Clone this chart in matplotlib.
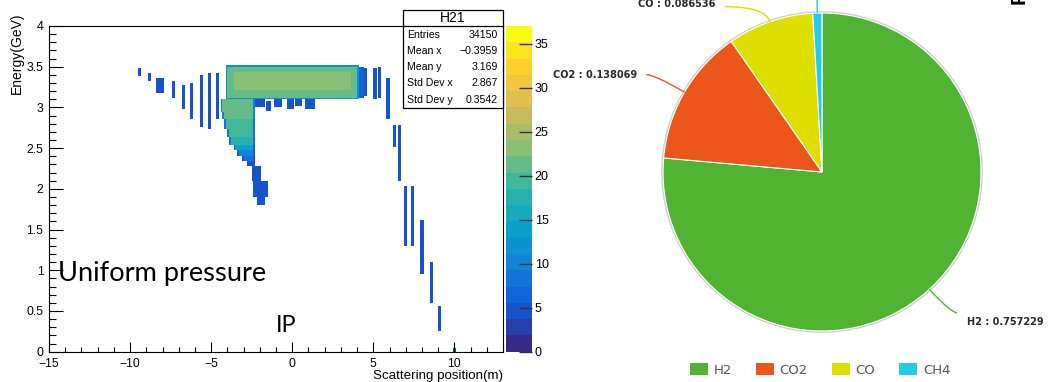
import numpy as np
import matplotlib
matplotlib.use("Agg")
import matplotlib.pyplot as plt
from matplotlib.colors import LinearSegmentedColormap, BoundaryNorm
from matplotlib.patches import Rectangle, Patch, Circle, PathPatch
from matplotlib.path import Path
from matplotlib.lines import Line2D
from matplotlib.ticker import MultipleLocator, FuncFormatter

plt.rcParams['font.family'] = ['Liberation Sans', 'DejaVu Sans']

# ---------------- data: 2D histogram H21 (regions of ~constant bin content) -------------
# main block (later entries override earlier ones)
main_x0 = [-4.05, -3.95, -3.6]
main_x1 = [4.10, 4.00, 3.6]
main_y0 = [3.10, 3.12, 3.22]
main_y1 = [3.52, 3.50, 3.44]
main_val = [12, 21, 23]

# vertical arm below the left end of the block: slabs in y (outer edge, then core)
arm_y0 = [2.95, 2.85, 2.75, 2.65, 2.55, 2.48, 2.40, 2.34]
arm_y1 = [3.10, 2.95, 2.85, 2.75, 2.65, 2.55, 2.48, 2.40]
arm_edge_xl = [-4.35, -4.25, -4.15, -4.00, -3.85, -3.60, -3.35, -3.05]
arm_edge_xr = [-2.25, -2.25, -2.25, -2.25, -2.25, -2.25, -2.25, -2.25]
arm_edge_val = [10, 10, 9, 9, 8, 7, 6, 5]
arm_core_xl = [-4.25, -4.15, -4.05, -3.90, -3.75, -3.50, -3.25, -2.95]
arm_core_xr = [-2.35, -2.35, -2.40, -2.40, -2.40, -2.40, -2.40, -2.40]
arm_core_val = [22, 21, 20, 19, 17, 14, 11, 8]

# sparse patches (tail of the arm, blobs, side columns)
sp_x0 = [-2.8, -2.45, -2.35, -2.15, -2.3, -1.6, -1.1, -0.3, 0.2, 0.8, 4.10, 4.45, 5.00, 5.35, -8.35]
sp_x1 = [-2.3, -1.85, -1.50, -1.70, -1.7, -1.3, -0.6, 0.1, 0.6, 1.4, 4.40, 4.65, 5.25, 5.55, -7.85]
sp_y0 = [2.28, 2.10, 1.90, 1.80, 3.00, 2.96, 3.00, 2.98, 3.02, 2.99, 3.12, 3.14, 3.10, 3.12, 3.19]
sp_y1 = [2.34, 2.28, 2.10, 1.90, 3.10, 3.08, 3.10, 3.10, 3.10, 3.10, 3.50, 3.48, 3.48, 3.50, 3.35]
sp_val = [5, 5, 5, 4, 5, 5, 5, 5, 4, 5, 6, 5, 5, 5, 5]

# thin vertical streaks (x centre, y start, y end, content)
streak_x = [-9.4, -8.8, -7.3, -6.7, -6.2, -5.6, -5.1, -4.6,
            5.9, 6.3, 6.65, 7.05, 7.45, 8.02, 8.6, 9.15, 10.0]
streak_y0 = [3.38, 3.32, 3.13, 2.99, 2.85, 2.77, 2.75, 2.85,
             2.85, 2.53, 2.10, 1.31, 1.31, 0.97, 0.60, 0.27, 0.00]
streak_y1 = [3.47, 3.42, 3.32, 3.28, 3.30, 3.41, 3.42, 3.42,
             3.37, 2.78, 2.78, 2.05, 2.05, 1.62, 1.10, 0.56, 0.04]
streak_val = [5, 5, 5, 5, 5, 5, 5, 5,
              5, 5, 5, 5, 4, 5, 5, 5, 4]

z_max = 37.0
cbar_ticks = [0, 5, 10, 15, 20, 25, 30, 35]

stat_names = ["Entries", "Mean x", "Mean y", "Std Dev x", "Std Dev y"]
stat_values = ["34150", "\u22120.3959", "3.169", "2.867", "0.3542"]

# ---------------- data: gas composition pie -------------
gas_names = ["H2", "CO2", "CO", "CH4"]
gas_fracs = [0.757229, 0.138069, 0.086536, 0.0092]
gas_colors = ["#50B432", "#ED561B", "#DDDF00", "#24CBE5"]

# ---------------- figure ----------------
W, H = 1048, 382
fig = plt.figure(figsize=(W / 100, H / 100), dpi=100)


def fx(px):
    return px / W


def fy(py):
    return 1 - py / H


# ROOT kBird palette
bird = [(0.2082, 0.1664, 0.5293), (0.0592, 0.3599, 0.8684), (0.0780, 0.5041, 0.8385),
        (0.0232, 0.6419, 0.7914), (0.1802, 0.7178, 0.6425), (0.5301, 0.7492, 0.4662),
        (0.8186, 0.7328, 0.3499), (0.9956, 0.7862, 0.1968), (0.9764, 0.9832, 0.0539)]
cmap = LinearSegmentedColormap.from_list("bird", bird, N=256)
levels = np.linspace(0, z_max, 21)
norm = BoundaryNorm(levels, ncolors=cmap.N)

ax = fig.add_axes([fx(49), fy(351.7), (503 - 49) / W, (351.7 - 26) / H])

xe = np.linspace(-15, 13, 281)
ye = np.linspace(0, 4, 201)
xc = 0.5 * (xe[:-1] + xe[1:])
yc = 0.5 * (ye[:-1] + ye[1:])
X, Y = np.meshgrid(xc, yc)
Z = np.zeros_like(X)


def fill(x0s, x1s, y0s, y1s, vals):
    for x0, x1, y0, y1, v in zip(x0s, x1s, y0s, y1s, vals):
        Z[(X >= x0) & (X < x1) & (Y >= y0) & (Y < y1)] = v


fill(main_x0, main_x1, main_y0, main_y1, main_val)
fill(arm_edge_xl, arm_edge_xr, arm_y0, arm_y1, arm_edge_val)
fill(arm_core_xl, arm_core_xr, arm_y0, arm_y1, arm_core_val)
fill(sp_x0, sp_x1, sp_y0, sp_y1, sp_val)
for xs, y0, y1, v in zip(streak_x, streak_y0, streak_y1, streak_val):
    Z[(X >= xs - 0.1) & (X < xs + 0.1) & (Y >= y0) & (Y < y1)] = v

mesh = ax.pcolormesh(xe, ye, np.ma.masked_equal(Z, 0), cmap=cmap, norm=norm)
ax.set_xlim(-15, 13)
ax.set_ylim(0, 4)
ax.xaxis.set_major_locator(MultipleLocator(5))
ax.xaxis.set_minor_locator(MultipleLocator(1))
ax.yaxis.set_major_locator(MultipleLocator(0.5))
ax.yaxis.set_minor_locator(MultipleLocator(0.1))
fmt = FuncFormatter(lambda v, p: f"{v:g}".replace("-", "\u2212"))
ax.xaxis.set_major_formatter(fmt)
ax.yaxis.set_major_formatter(fmt)
ax.tick_params(axis='x', which='major', direction='in', length=7.2, width=0.8, labelsize=8.8, pad=4.8)
ax.tick_params(axis='x', which='minor', direction='in', length=3.6, width=0.8)
ax.tick_params(axis='y', which='major', direction='in', length=9.8, width=0.8, labelsize=8.8, pad=4)
ax.tick_params(axis='y', which='minor', direction='in', length=4.9, width=0.8)
for s in ax.spines.values():
    s.set_linewidth(0.8)

fig.text(fx(17), fy(12), "Energy(GeV)", rotation=90, ha='center', va='top', fontsize=10)
fig.text(fx(503), fy(375.5), "Scattering position(m)", ha='right', va='center', fontsize=9.6)

# colour bar (palette axis)
cax = fig.add_axes([fx(506), fy(351.7), 26 / W, (351.7 - 26) / H])
cb = fig.colorbar(mesh, cax=cax, ticks=cbar_ticks)
cb.outline.set_visible(False)
cax.tick_params(axis='y', which='major', direction='in', length=9.5, width=1, color='#333333',
                labelsize=9, pad=2)
cax.tick_params(axis='y', which='minor', length=0)

# stats box
fig.add_artist(Rectangle((fx(403), fy(108)), 100 / W, 98 / H, transform=fig.transFigure,
                         facecolor='white', edgecolor='black', lw=0.9, zorder=10))
fig.add_artist(Line2D([fx(403), fx(503)], [fy(26), fy(26)], transform=fig.transFigure,
                      color='black', lw=0.9, zorder=11))
fig.text(fx(453), fy(18.5), "H21", ha='center', va='center', fontsize=10, zorder=12)
row_y = [35, 51.5, 67, 83.5, 100]
for name, val, ry in zip(stat_names, stat_values, row_y):
    fig.text(fx(407), fy(ry), name, ha='left', va='center', fontsize=7.6, zorder=12)
    fig.text(fx(498), fy(ry), val, ha='right', va='center', fontsize=7.6, zorder=12)

fig.text(fx(58), fy(273), "Uniform pressure", ha='left', va='center', fontsize=19.6,
         family=['Lato', 'DejaVu Sans'])
fig.text(fx(276), fy(325), "IP", ha='left', va='center', fontsize=17,
         family=['Lato', 'DejaVu Sans'])

# ---------------- pie ----------------
R = 159
pax = fig.add_axes([fx(822 - R), fy(172 + R), 2 * R / W, 2 * R / H])
wedges, _ = pax.pie(gas_fracs, colors=gas_colors, startangle=90, counterclock=False,
                    wedgeprops=dict(edgecolor='white', linewidth=0.8))
pax.set_xlim(-1, 1)
pax.set_ylim(-1, 1)
pax.set_aspect('equal')
pax.add_patch(Circle((0, 0), 1.006, facecolor='none', edgecolor='#cfcfcf', lw=1.3, zorder=0,
                     clip_on=False))

# connectors: radial extension, horizontal length, label dy
conn_ext = [0.20, 0.22, 0.10, 0.25]
conn_h = [0.04, 0.05, 0.25, 0.0]
lab_dy = [-0.057, 0.0, 0.018, 0.0]
for i, (w, name, frac, col) in enumerate(zip(wedges, gas_names, gas_fracs, gas_colors)):
    mid = np.deg2rad(0.5 * (w.theta1 + w.theta2))
    cx, cy = np.cos(mid), np.sin(mid)
    side = 1 if cx > 0 else -1
    A = (cx, cy)
    B = ((1 + conn_ext[i]) * cx, (1 + conn_ext[i]) * cy)
    C = (B[0] + side * conn_h[i], B[1])
    path = Path([A, B, C], [Path.MOVETO, Path.CURVE3, Path.CURVE3])
    pax.add_patch(PathPatch(path, facecolor='none', edgecolor=col, lw=1.0, clip_on=False))
    if name != "CH4":
        pax.text(C[0] + side * 0.06, C[1] + lab_dy[i], f"{name} : {frac}",
                 ha='left' if side > 0 else 'right', va='center', fontsize=7,
                 fontweight='bold', color='#2a2a2a', family='DejaVu Sans')

handles = [Patch(facecolor=c, edgecolor='none') for c in gas_colors]
fig.legend(handles, gas_names, loc='center', bbox_to_anchor=(fx(820), fy(370)), ncol=4,
           frameon=False, prop={'family': 'DejaVu Sans', 'size': 9.5}, labelcolor='#555555',
           handlelength=1.36, handleheight=1.0, handletextpad=0.45, columnspacing=1.8)

# clipped title fragment at top right
fig.text(fx(1019.5), fy(4), "F", rotation=90, ha='center', va='bottom', fontsize=15,
         fontweight='bold')

fig.savefig("out.png", dpi=100)
